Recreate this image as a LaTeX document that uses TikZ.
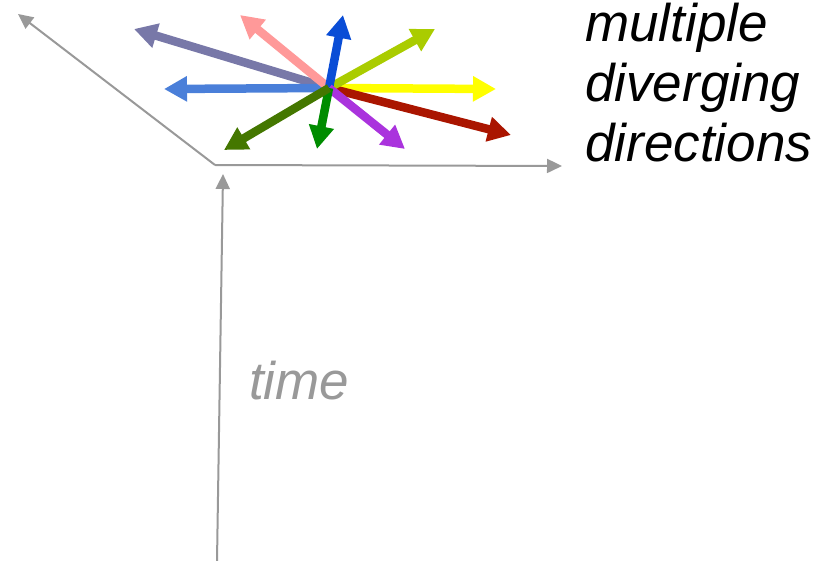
\documentclass[tikz,border=0pt]{standalone}
\usepackage{fontspec}
\setmainfont{Liberation Sans}
\usetikzlibrary{arrows.meta}
\definecolor{axisgray}{HTML}{999999}
\definecolor{cslate}{HTML}{7878A8}
\definecolor{cpink}{HTML}{FF9999}
\definecolor{cblue}{HTML}{0A4DD6}
\definecolor{cyg}{HTML}{AACC00}
\definecolor{cyellow}{HTML}{FFFF00}
\definecolor{cred}{HTML}{AA1500}
\definecolor{cpurple}{HTML}{AA33DD}
\definecolor{cgreen}{HTML}{008C00}
\definecolor{cdgreen}{HTML}{447700}
\definecolor{cblueleft}{HTML}{4A7FD9}
\tikzset{
  axisline/.style={draw=axisgray, line width=2pt, -{Triangle[width=14pt,length=15pt]}},
  dirarrow/.style={line width=8.5pt, -{Triangle[width=24pt,length=23pt]}},
  bigtext/.style={inner sep=0pt, anchor=base west, font=\fontsize{53}{60}\selectfont\itshape}
}
\begin{document}
\begin{tikzpicture}[x=1pt,y=-1pt]
\useasboundingbox (0,0) rectangle (829,561);
% axes
\coordinate (O) at (215,165);
\coordinate (xend) at (562,166);
\coordinate (dend) at (18,14);
\coordinate (tstart) at (217,561);
\coordinate (tend) at (223,174);
\draw[axisline] (O) -- (xend);
\draw[axisline] (O) -- (dend);
\draw[axisline] (tstart) -- (tend);
% cluster
\coordinate (C) at (329,88);
\coordinate (t1) at (134,29);
\coordinate (t2) at (164,89);
\coordinate (t3) at (240,15);
\coordinate (t4) at (496,89);
\coordinate (t5) at (511,135);
\coordinate (t6) at (435,29);
\coordinate (t7) at (343,15);
\coordinate (t8) at (405,149);
\coordinate (t9) at (317,149);
\coordinate (t10) at (224,150);
\draw[dirarrow, draw=cslate, fill=cslate] (C) -- (t1);
\draw[dirarrow, draw=cblueleft, fill=cblueleft] (C) -- (t2);
\draw[dirarrow, draw=cpink, fill=cpink] (C) -- (t3);
\draw[dirarrow, draw=cyellow, fill=cyellow] (C) -- (t4);
\draw[dirarrow, draw=cred, fill=cred] (C) -- (t5);
\draw[dirarrow, draw=cyg, fill=cyg] (C) -- (t6);
\draw[dirarrow, draw=cblue, fill=cblue] (C) -- (t7);
\draw[dirarrow, draw=cpurple, fill=cpurple] (C) -- (t8);
\draw[dirarrow, draw=cgreen, fill=cgreen] (C) -- (t9);
\draw[dirarrow, draw=cdgreen, fill=cdgreen] (C) -- (t10);
% texts
\node[bigtext] (l1) at (585,42) {multiple};
\node[bigtext] (l2) at (585,102) {diverging};
\node[bigtext] (l3) at (585,162) {directions};
\node[bigtext, text=axisgray] (time) at (249,399) {time};
\end{tikzpicture}
\end{document}
